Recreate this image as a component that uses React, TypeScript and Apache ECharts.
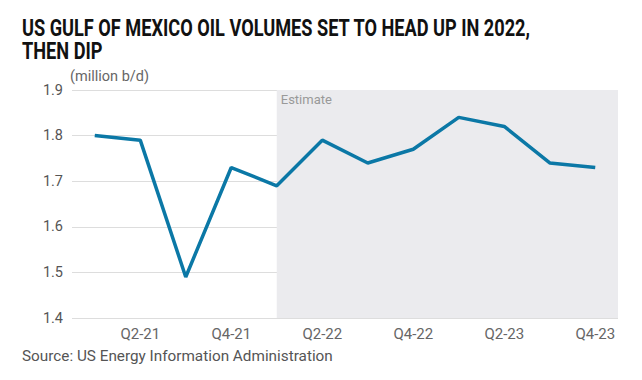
import React, { useEffect, useRef } from "react";
import * as echarts from "echarts";

const categories = ["Q1-21", "Q2-21", "Q3-21", "Q4-21", "Q1-22", "Q2-22", "Q3-22", "Q4-22", "Q1-23", "Q2-23", "Q3-23", "Q4-23"];
const volumes = [1.80, 1.79, 1.49, 1.73, 1.69, 1.79, 1.74, 1.77, 1.84, 1.82, 1.74, 1.73];
const estimateStart = "Q1-22";
const titleText = "US GULF OF MEXICO OIL VOLUMES SET TO HEAD UP IN 2022,\nTHEN DIP";
const unitText = "(million b/d)";
const sourceText = "Source: US Energy Information Administration";

export default function App() {
  const ref = useRef<HTMLDivElement>(null);
  useEffect(() => {
    if (!ref.current) return;
    const chart = echarts.init(ref.current, null, { renderer: "svg" });
    const font = "Roboto, 'Noto Sans', sans-serif";
    chart.setOption({
      animation: false,
      backgroundColor: "#ffffff",
      graphic: [
        {
          type: "text",
          x: 22,
          y: 17,
          scaleX: 0.79,
          style: {
            text: titleText,
            x: 0,
            y: 0,
            fontFamily: "Roboto, sans-serif",
            fontWeight: "bold",
            fontSize: 23,
            lineHeight: 23,
            fill: "#111111",
            verticalAlign: "top",
          },
        },
        {
          type: "text",
          left: 70,
          top: 69,
          style: { text: unitText, fontFamily: font, fontSize: 14.5, fill: "#666666" },
        },
        {
          type: "text",
          left: 22,
          top: 348,
          style: { text: sourceText, fontFamily: font, fontSize: 15.3, fill: "#555555" },
        },
      ],
      grid: { left: 72, right: 24, top: 90, bottom: 62 },
      xAxis: {
        type: "category",
        data: categories,
        boundaryGap: true,
        axisLine: { show: false },
        axisTick: { show: false },
        axisLabel: {
          interval: (i: number) => i % 2 === 1,
          fontFamily: font,
          fontSize: 15,
          color: "#666666",
          margin: 8,
        },
      },
      yAxis: {
        type: "value",
        min: 1.4,
        max: 1.9,
        interval: 0.1,
        axisLine: { show: false },
        axisTick: { show: false },
        splitLine: { lineStyle: { color: "#dddddd", width: 1 } },
        axisLabel: {
          formatter: (v: number) => v.toFixed(1),
          fontFamily: font,
          fontSize: 14.5,
          color: "#555555",
          margin: 9,
        },
      },
      series: [
        {
          type: "line",
          data: volumes,
          symbol: "none",
          lineStyle: { color: "#0b78a6", width: 3.5 },
          markArea: {
            silent: true,
            itemStyle: { color: "#ebebee" },
            label: {
              show: true,
              position: "insideTopLeft",
              formatter: "Estimate",
              fontFamily: font,
              fontSize: 13,
              color: "#999999",
              offset: [-1, -2],
            },
            data: [[{ xAxis: estimateStart }, {}]],
          },
        },
      ],
    });
    return () => chart.dispose();
  }, []);
  return <div ref={ref} style={{ position: "fixed", left: 0, top: 0, width: 642, height: 380 }} />;
}
